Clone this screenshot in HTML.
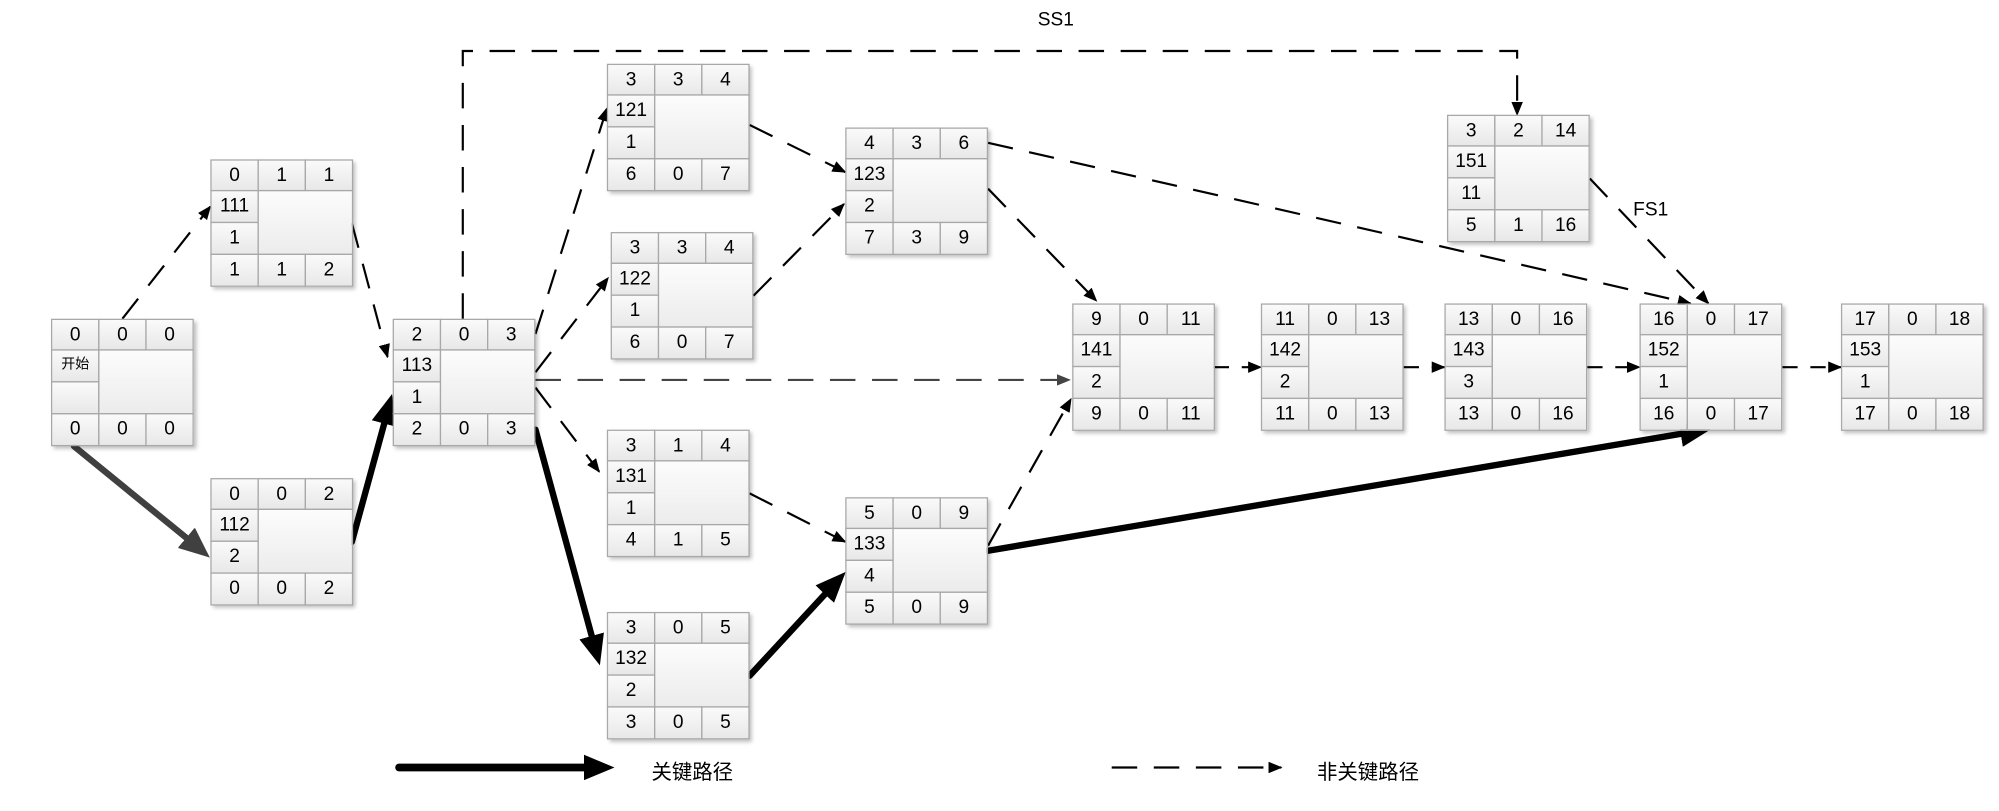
<!DOCTYPE html>
<html><head><meta charset="utf-8"><style>
html,body{margin:0;padding:0;background:#fff;width:1999px;height:810px;overflow:hidden}
#w{position:absolute;left:0;top:0;width:1568px;height:636px;transform:scale(1.2749);transform-origin:0 0}
svg{position:absolute;left:0;top:0}
.n{position:absolute;width:112px;height:100px;box-shadow:2px 2px 3px rgba(0,0,0,.25)}
.n div{position:absolute;box-sizing:border-box;border:1px solid #a8a8a8;background:linear-gradient(#fafafa,#e8e8e8);font:15px "Liberation Sans","Noto Sans CJK SC",sans-serif;color:#000;text-align:center;line-height:23px}
.a{left:0;top:0;width:38px;height:25px}.b{left:37px;top:0;width:38px;height:25px}.c{left:74px;top:0;width:38px;height:25px}
.d{left:0;top:24px;width:38px;height:26px}.e{left:0;top:49px;width:38px;height:26px}
.n .f{left:37px;top:24px;width:75px;height:51px;background:linear-gradient(#fcfcfc,#ececec)}
.g{left:0;top:74px;width:38px;height:26px}.h{left:37px;top:74px;width:38px;height:26px}.i{left:74px;top:74px;width:38px;height:26px}
.t{position:absolute;font:15px "Liberation Sans","Noto Sans CJK SC",sans-serif}
</style></head><body><div id="w">
<svg width="1568" height="636" viewBox="0 0 1568 636">
<defs>
<marker id="m" markerWidth="11" markerHeight="9" refX="10" refY="4.5" orient="auto" markerUnits="userSpaceOnUse"><path d="M0,0L11,4.5L0,9z" fill="#000"/></marker>
<marker id="mg" markerWidth="11" markerHeight="9" refX="10" refY="4.5" orient="auto" markerUnits="userSpaceOnUse"><path d="M0,0L11,4.5L0,9z" fill="#444"/></marker>
<marker id="M" markerWidth="24" markerHeight="20" refX="22" refY="10" orient="auto" markerUnits="userSpaceOnUse"><path d="M0,0L24,10L0,20z" fill="#000"/></marker>
<marker id="MG" markerWidth="24" markerHeight="20" refX="22" refY="10" orient="auto" markerUnits="userSpaceOnUse"><path d="M0,0L24,10L0,20z" fill="#404040"/></marker>
</defs>
<g fill="none" stroke="#000" stroke-width="1.7" stroke-dasharray="20,13">
<path d="M96,250L165,162" marker-end="url(#m)"/>
<path d="M276,175L304,280" marker-end="url(#m)"/>
<path d="M363,250V40H1190V90" marker-end="url(#m)"/>
<path d="M420,262L476,85" marker-end="url(#m)"/>
<path d="M420,292L477,218" marker-end="url(#m)"/>
<path d="M420,298L839,298" stroke="#444" marker-end="url(#mg)"/>
<path d="M420,304L470,370" marker-end="url(#m)"/>
<path d="M588,98L663,135" marker-end="url(#m)"/>
<path d="M591,232L662,160" marker-end="url(#m)"/>
<path d="M775,112L1326,238" marker-end="url(#m)"/>
<path d="M775,148L860,236" marker-end="url(#m)"/>
<path d="M588,387L663,425" marker-end="url(#m)"/>
<path d="M775,428L840,313" marker-end="url(#m)"/>
<path d="M952,288H989" stroke-dasharray="12,10" marker-end="url(#m)"/>
<path d="M1101,288H1133" stroke-dasharray="12,10" marker-end="url(#m)"/>
<path d="M1245,288H1286" stroke-dasharray="12,10" marker-end="url(#m)"/>
<path d="M1398,288H1444" stroke-dasharray="12,10" marker-end="url(#m)"/>
<path d="M1247,140L1340,238" marker-end="url(#m)"/>
<path d="M872,602H1005" marker-end="url(#m)"/>
</g>
<g fill="none">
<path d="M58,350L150,425" stroke="#404040" stroke-width="5" stroke-linecap="round"/>
<path d="M58,350L163,436" stroke="none" marker-end="url(#MG)"/>
<path d="M148,423L163,436" stroke="#404040" stroke-width="0.1" marker-end="url(#MG)"/>
<path d="M276,425L302,330" stroke="#000" stroke-width="5" stroke-linecap="round"/>
<path d="M300,337L307,311" stroke="#000" stroke-width="0.1" marker-end="url(#M)"/>
<path d="M420,337L465,502" stroke="#000" stroke-width="5" stroke-linecap="round"/>
<path d="M463,495L470,520" stroke="#000" stroke-width="0.1" marker-end="url(#M)"/>
<path d="M588,530L649,464" stroke="#000" stroke-width="5" stroke-linecap="round"/>
<path d="M645,468L662,450" stroke="#000" stroke-width="0.1" marker-end="url(#M)"/>
<path d="M775,432L1320,340" stroke="#000" stroke-width="5" stroke-linecap="round"/>
<path d="M1310,342L1340,337" stroke="#000" stroke-width="0.1" marker-end="url(#M)"/>
<path d="M313,602H462" stroke="#000" stroke-width="6" stroke-linecap="round"/>
<path d="M455,602H480" stroke="#000" stroke-width="0.1" marker-end="url(#M)"/>
</g>
</svg>
<div class="t" style="left:814px;top:7px">SS1</div>
<div class="t" style="left:1281px;top:156px">FS1</div>
<div class="t" style="left:511px;top:592px;font-size:16px">关键路径</div>
<div class="t" style="left:1033px;top:592px;font-size:16px">非关键路径</div>

<div class="n" style="left:40px;top:250px"><div class="a">0</div><div class="b">0</div><div class="c">0</div><div class="d" style="font-size:11px">开始</div><div class="e"></div><div class="f"></div><div class="g">0</div><div class="h">0</div><div class="i">0</div></div>
<div class="n" style="left:165px;top:125px"><div class="a">0</div><div class="b">1</div><div class="c">1</div><div class="d">111</div><div class="e">1</div><div class="f"></div><div class="g">1</div><div class="h">1</div><div class="i">2</div></div>
<div class="n" style="left:165px;top:375px"><div class="a">0</div><div class="b">0</div><div class="c">2</div><div class="d">112</div><div class="e">2</div><div class="f"></div><div class="g">0</div><div class="h">0</div><div class="i">2</div></div>
<div class="n" style="left:308px;top:250px"><div class="a">2</div><div class="b">0</div><div class="c">3</div><div class="d">113</div><div class="e">1</div><div class="f"></div><div class="g">2</div><div class="h">0</div><div class="i">3</div></div>
<div class="n" style="left:476px;top:50px"><div class="a">3</div><div class="b">3</div><div class="c">4</div><div class="d">121</div><div class="e">1</div><div class="f"></div><div class="g">6</div><div class="h">0</div><div class="i">7</div></div>
<div class="n" style="left:479px;top:182px"><div class="a">3</div><div class="b">3</div><div class="c">4</div><div class="d">122</div><div class="e">1</div><div class="f"></div><div class="g">6</div><div class="h">0</div><div class="i">7</div></div>
<div class="n" style="left:476px;top:337px"><div class="a">3</div><div class="b">1</div><div class="c">4</div><div class="d">131</div><div class="e">1</div><div class="f"></div><div class="g">4</div><div class="h">1</div><div class="i">5</div></div>
<div class="n" style="left:476px;top:480px"><div class="a">3</div><div class="b">0</div><div class="c">5</div><div class="d">132</div><div class="e">2</div><div class="f"></div><div class="g">3</div><div class="h">0</div><div class="i">5</div></div>
<div class="n" style="left:663px;top:100px"><div class="a">4</div><div class="b">3</div><div class="c">6</div><div class="d">123</div><div class="e">2</div><div class="f"></div><div class="g">7</div><div class="h">3</div><div class="i">9</div></div>
<div class="n" style="left:663px;top:390px"><div class="a">5</div><div class="b">0</div><div class="c">9</div><div class="d">133</div><div class="e">4</div><div class="f"></div><div class="g">5</div><div class="h">0</div><div class="i">9</div></div>
<div class="n" style="left:841px;top:238px"><div class="a">9</div><div class="b">0</div><div class="c">11</div><div class="d">141</div><div class="e">2</div><div class="f"></div><div class="g">9</div><div class="h">0</div><div class="i">11</div></div>
<div class="n" style="left:989px;top:238px"><div class="a">11</div><div class="b">0</div><div class="c">13</div><div class="d">142</div><div class="e">2</div><div class="f"></div><div class="g">11</div><div class="h">0</div><div class="i">13</div></div>
<div class="n" style="left:1133px;top:238px"><div class="a">13</div><div class="b">0</div><div class="c">16</div><div class="d">143</div><div class="e">3</div><div class="f"></div><div class="g">13</div><div class="h">0</div><div class="i">16</div></div>
<div class="n" style="left:1135px;top:90px"><div class="a">3</div><div class="b">2</div><div class="c">14</div><div class="d">151</div><div class="e">11</div><div class="f"></div><div class="g">5</div><div class="h">1</div><div class="i">16</div></div>
<div class="n" style="left:1286px;top:238px"><div class="a">16</div><div class="b">0</div><div class="c">17</div><div class="d">152</div><div class="e">1</div><div class="f"></div><div class="g">16</div><div class="h">0</div><div class="i">17</div></div>
<div class="n" style="left:1444px;top:238px"><div class="a">17</div><div class="b">0</div><div class="c">18</div><div class="d">153</div><div class="e">1</div><div class="f"></div><div class="g">17</div><div class="h">0</div><div class="i">18</div></div>
</div></body></html>
